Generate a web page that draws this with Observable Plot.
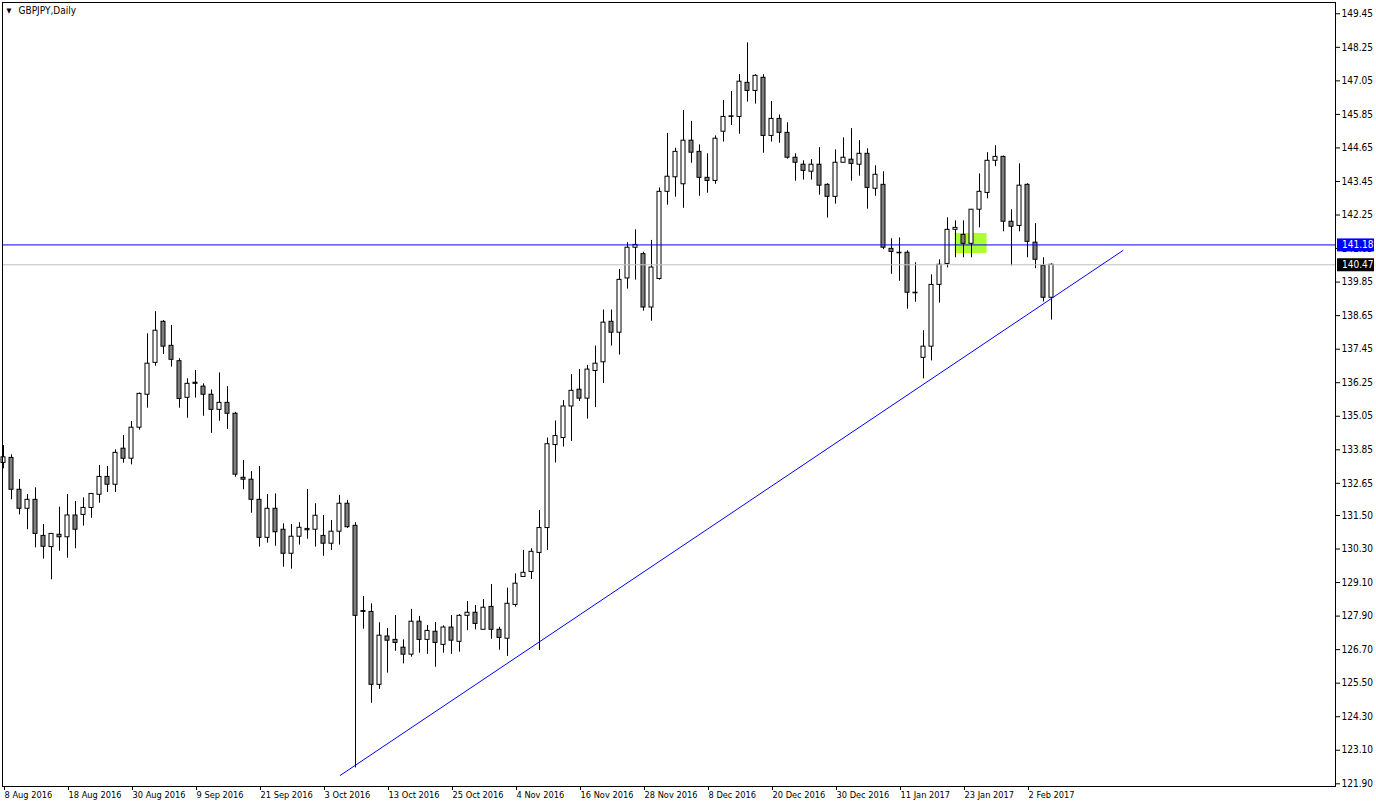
<!DOCTYPE html>
<html>
<head>
<meta charset="utf-8">
<script src="https://cdn.jsdelivr.net/npm/d3@7"></script>
<script src="https://cdn.jsdelivr.net/npm/@observablehq/plot@0.6"></script>
<style>
  html, body { margin: 0; padding: 0; background: #ffffff; }
  #chart { position: absolute; left: 0; top: 0; }
</style>
</head>
<body>
<div id="chart"></div>
<script>
// ---- Data (GBPJPY daily, bar index 0 = 8 Aug 2016) ----
const open = [133.38,133.56,132.42,131.74,132.06,130.77,130.37,130.81,130.72,131.50,
  131.52,131.77,132.24,132.88,132.60,133.89,133.53,134.64,135.82,136.96,
  138.43,137.57,137.02,135.71,136.25,136.11,135.82,135.28,135.53,135.14,
  132.85,132.78,132.06,130.70,131.74,130.99,130.13,130.74,131.02,130.99,
  130.77,130.49,130.92,131.92,131.13,128.08,128.05,125.44,127.17,127.05,
  126.77,126.52,127.70,127.05,127.34,126.87,127.49,126.98,127.91,128.02,
  127.41,128.23,127.41,127.09,128.30,129.30,129.48,130.16,131.05,134.02,
  134.27,135.40,136.00,135.68,136.67,136.98,138.43,138.04,139.98,141.08,
  140.85,138.94,139.96,143.08,143.60,143.35,144.91,144.51,143.58,143.47,
  145.23,145.78,145.76,146.98,146.69,147.16,145.08,145.69,145.19,144.30,
  144.05,143.80,144.05,143.33,142.90,144.12,144.23,144.05,144.44,143.19,
  143.33,141.04,140.90,140.90,139.47,137.14,137.54,139.75,140.50,141.72,
  141.54,141.22,142.44,143.04,144.19,144.33,142.01,141.86,143.33,141.26,
  140.43,139.29];
const high = [134.00,133.67,132.79,132.25,132.49,131.18,130.84,131.80,132.25,132.00,
  132.13,132.27,133.29,133.25,133.85,134.36,134.86,135.88,138.00,138.79,
  138.47,138.30,137.11,136.39,136.69,136.21,135.99,136.60,136.11,135.19,
  133.47,133.07,133.25,132.25,132.27,131.20,131.18,131.24,132.43,131.92,
  131.50,131.32,132.22,132.04,131.24,128.60,128.34,127.66,127.46,127.92,
  127.05,128.14,127.89,127.56,127.67,127.55,127.92,127.95,128.42,128.28,
  128.49,129.03,127.50,128.90,129.41,130.25,130.31,131.68,134.27,134.88,
  135.61,136.54,136.72,136.87,137.56,138.85,138.85,140.30,141.26,141.72,
  140.92,141.34,143.22,145.17,144.64,145.99,145.60,144.76,144.44,145.08,
  146.35,146.67,147.28,148.41,147.27,147.27,146.31,145.83,145.55,144.44,
  144.19,144.23,144.66,143.37,144.58,145.01,145.34,144.91,144.62,144.01,
  143.80,141.40,141.43,140.97,140.54,138.11,140.11,140.65,142.15,142.04,
  142.04,142.44,143.72,144.48,144.73,144.36,142.44,144.08,143.37,141.94,
  140.72,140.50];
const low = [133.17,132.06,131.52,130.99,130.34,129.94,129.20,130.22,129.97,130.31,
  131.12,131.40,131.94,132.32,132.32,133.37,133.31,134.55,135.34,136.84,
  137.26,136.81,135.34,134.98,135.70,135.05,134.44,134.87,134.58,132.87,
  132.42,131.58,130.37,130.51,130.40,129.65,129.58,130.44,130.65,130.37,
  130.04,130.25,130.44,131.04,122.47,127.43,124.78,125.28,125.86,126.64,
  126.19,126.43,126.57,126.53,126.07,126.57,126.53,126.61,127.38,127.41,
  127.41,127.07,126.68,126.46,128.22,129.30,129.21,126.67,130.25,133.38,
  133.95,134.15,135.58,134.95,135.36,136.22,137.56,137.24,139.60,139.92,
  138.81,138.45,139.92,142.60,142.89,142.49,144.10,142.92,143.03,143.35,
  144.86,145.45,145.14,146.29,146.22,144.46,144.86,144.82,144.25,143.46,
  143.50,143.50,142.96,142.14,142.64,144.12,143.46,143.64,142.46,142.92,
  141.01,140.13,139.88,138.88,139.13,136.39,137.03,139.10,140.36,140.72,
  140.72,140.72,141.79,142.83,143.98,141.65,140.43,141.65,140.72,140.33,
  139.14,138.49];
const close = [133.58,132.42,131.74,132.06,130.84,130.38,130.84,130.72,131.50,130.99,
  131.77,132.27,132.88,132.60,133.74,133.53,134.64,135.85,136.93,138.11,
  137.54,137.07,135.67,136.21,136.21,135.82,135.28,135.53,135.14,132.96,
  132.78,132.06,130.70,131.74,130.90,130.13,130.74,131.06,130.97,131.49,
  130.49,130.92,131.92,131.08,127.91,128.05,125.44,127.20,127.02,126.94,
  126.52,127.70,127.05,127.37,126.94,127.49,127.02,127.91,128.02,127.62,
  128.20,127.41,127.12,128.34,129.06,129.45,130.20,131.05,134.05,134.34,
  135.40,135.96,135.68,136.72,136.93,138.40,138.04,139.93,141.08,141.18,
  138.94,140.37,143.08,143.62,144.51,144.91,144.48,143.58,143.47,144.98,
  145.76,145.76,147.02,146.69,147.23,145.08,145.69,145.19,144.30,144.12,
  143.83,144.05,143.30,142.90,144.12,144.30,144.08,144.44,143.22,143.69,
  141.08,140.93,140.88,139.47,139.45,137.54,139.75,140.47,141.72,141.79,
  141.22,142.44,143.08,144.19,144.33,142.01,141.83,143.30,141.29,140.65,
  139.29,140.47];

// Date axis: bar index of each label and its text
const dateTickIdx = [0,8,16,24,32,40,48,56,64,72,80,88,96,104,112,120,128];
const dateTickText = ["8 Aug 2016","18 Aug 2016","30 Aug 2016","9 Sep 2016","21 Sep 2016",
  "3 Oct 2016","13 Oct 2016","25 Oct 2016","4 Nov 2016","16 Nov 2016","28 Nov 2016",
  "8 Dec 2016","20 Dec 2016","30 Dec 2016","11 Jan 2017","23 Jan 2017","2 Feb 2017"];

// Price axis labels
const priceTickText = ["149.45","148.25","147.05","145.85","144.65","143.45","142.25","141.05",
  "139.85","138.65","137.45","136.25","135.05","133.85","132.65","131.50","130.30",
  "129.10","127.90","126.70","125.50","124.30","123.10","121.90"];
const priceTicks = priceTickText.map(Number);

// Drawn objects
const levelPrice = 141.18;          // blue horizontal line
const bidPrice = 140.47;            // grey bid line
const trendIdx = [42.09, 139.93];   // trend line anchors (bar index)
const trendPrice = [122.20, 140.98];
const zoneIdx = [118.95, 122.95];   // green rectangle
const zonePrice = [140.87, 141.59];

const title = "GBPJPY,Daily";

// ---- Build tables ----
const bars = open.map((o, i) => ({i, open: o, high: high[i], low: low[i], close: close[i]}));
const trend = trendIdx.map((x, k) => ({x, y: trendPrice[k]}));
const zone = [{x1: zoneIdx[0], x2: zoneIdx[1], y1: zonePrice[0], y2: zonePrice[1]}];

const FONT = "Tahoma, 'DejaVu Sans Condensed', 'Liberation Sans', sans-serif";
const W = 1376, H = 807;
const mL = 2, mR = 41, mT = 2, mB = 21;
// 8 px per bar, bar 0 centred at x = 3
const xDomain = [(mL - 3) / 8, (W - mR - 3) / 8];
const pxPerUnit = 27.95;
const yTop = 149.925 - mT / pxPerUnit;
const yBot = 149.925 - (H - mB) / pxPerUnit;

const chart = Plot.plot({
  width: W, height: H,
  marginLeft: mL, marginRight: mR, marginTop: mT, marginBottom: mB,
  style: {fontFamily: FONT, fontSize: "10px", background: "#ffffff", color: "#000000", overflow: "visible"},
  x: {domain: xDomain, axis: null},
  y: {domain: [yBot, yTop], axis: null},
  marks: [
    Plot.rect(zone, {x1: "x1", x2: "x2", y1: "y1", y2: "y2", fill: "#adff2f"}),
    Plot.ruleX(bars, {x: "i", y1: "low", y2: "high", stroke: "#000000", strokeWidth: 1}),
    Plot.rect(bars, {
      x1: d => d.i - 0.25, x2: d => d.i + 0.25,
      y1: "open", y2: "close",
      fill: d => d.close >= d.open ? "#ffffff" : "#808080",
      stroke: "#000000", strokeWidth: 1
    }),
    Plot.ruleY([bidPrice], {stroke: "#c0c0c0", strokeWidth: 1}),
    Plot.ruleY([levelPrice], {stroke: "#0000ff", strokeWidth: 1}),
    Plot.line(trend, {x: "x", y: "y", stroke: "#0000ff", strokeWidth: 1}),
    Plot.frame({stroke: "#000000", strokeWidth: 1}),
    Plot.axisY({
      anchor: "right", ticks: priceTicks, label: null,
      tickFormat: d => priceTickText[priceTicks.indexOf(d)],
      tickSize: 4, tickPadding: 2, fontSize: 10
    }),
    Plot.axisX({
      anchor: "bottom", ticks: dateTickIdx, label: null,
      tickFormat: d => dateTickText[dateTickIdx.indexOf(d)],
      tickSize: 4, tickPadding: 1, fontSize: 9.2,
      textAnchor: "start", dx: 1
    }),
    Plot.text([title], {frameAnchor: "top-left", dx: 16, dy: 4, textAnchor: "start", lineAnchor: "top", fontSize: 10, fill: "#000000"}),
    Plot.text(["\u25BC"], {frameAnchor: "top-left", dx: 4, dy: 6, textAnchor: "start", lineAnchor: "top", fontSize: 7, fill: "#000000"})
  ]
});

document.getElementById("chart").appendChild(chart);

// Price tags on the right axis (blue line level and bid), positioned by the y scale
const svg = d3.select(chart);
const yS = chart.scale("y");
const xRight = W - mR;
[[levelPrice, "#0000ff"], [bidPrice, "#000000"]].forEach(([p, bg]) => {
  const yy = yS.apply(p) + 0.5;
  const g = svg.append("g");
  g.append("rect").attr("x", xRight + 2).attr("y", yy - 6.5).attr("width", 37).attr("height", 13).attr("fill", bg);
  g.append("text").attr("x", xRight + 7).attr("y", yy).attr("dy", "0.35em")
    .attr("text-anchor", "start")
    .attr("fill", "#ffffff").attr("font-size", 10).attr("font-family", FONT).text(p.toFixed(2));
});
</script>
</body>
</html>
